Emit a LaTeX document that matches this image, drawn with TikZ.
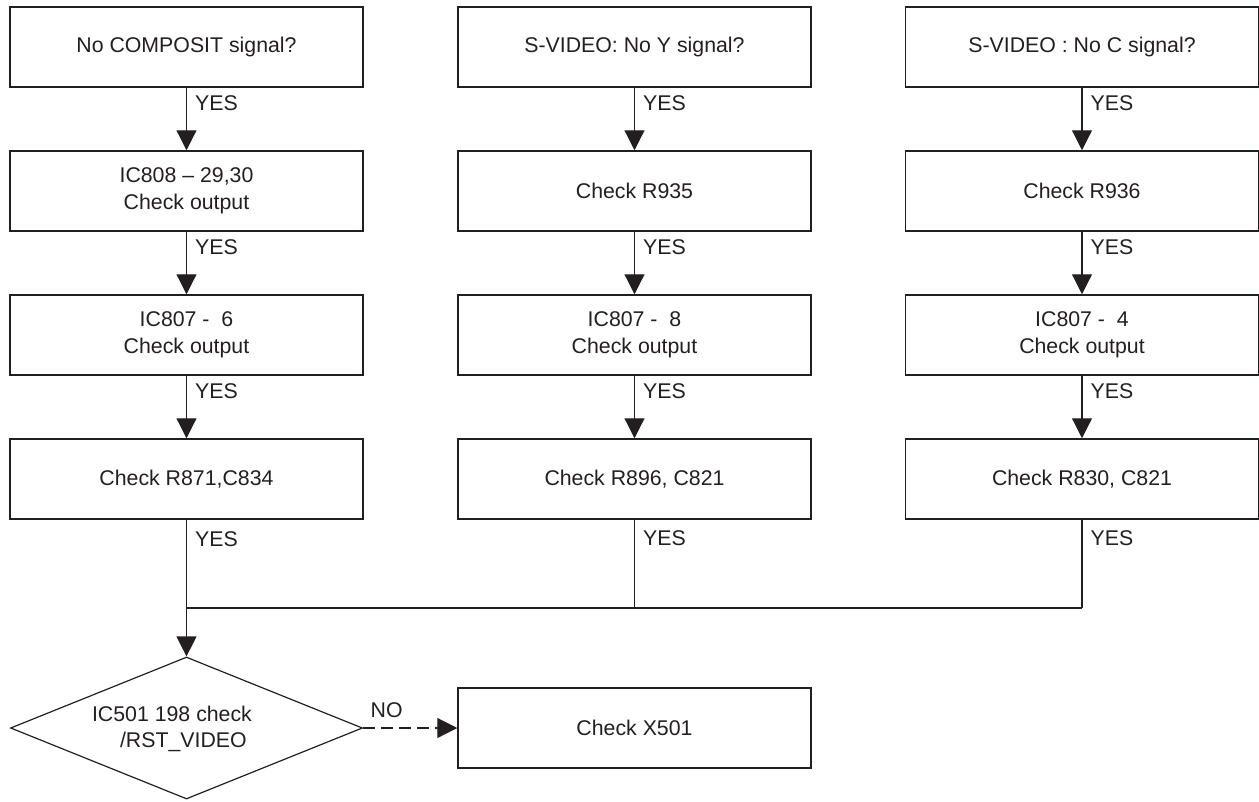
\documentclass[tikz,border=0pt]{standalone}
\usepackage{fontspec}
\setmainfont{Liberation Sans}
\usetikzlibrary{arrows.meta,shapes.geometric}
\definecolor{ink}{HTML}{231F20}
\begin{document}
\begin{tikzpicture}[x=1pt,y=-1pt, color=ink,
  txt/.style={font=\fontsize{21.3}{26.5}\selectfont},
  box/.style={draw, line width=1.5pt, minimum width=353pt, minimum height=80pt, inner sep=0pt, align=center, txt},
  flow/.style={line width=1.2pt, -{Triangle[length=20pt,width=20pt]}},
  plain/.style={line width=1.2pt},
  lab/.style={txt, anchor=west, inner sep=0pt, xshift=8pt}]
\useasboundingbox (0,0) rectangle (1259,801);
% column 1
\node[box] (a1) at (186.5,47) {No COMPOSIT signal?};
\node[box] (a2) at (186.5,191) {IC808 -- 29,30\\Check output};
\node[box] (a3) at (186.5,335) {IC807 -\ \ 6\\Check output};
\node[box] (a4) at (186.5,479) {Check R871,C834};
% column 2
\node[box] (b1) at (634.5,47) {S-VIDEO: No Y signal?};
\node[box] (b2) at (634.5,191) {Check R935};
\node[box] (b3) at (634.5,335) {IC807 -\ \ 8\\Check output};
\node[box] (b4) at (634.5,479) {Check R896, C821};
% column 3
\node[box] (c1) at (1082,47) {S-VIDEO : No C signal?};
\node[box] (c2) at (1082,191) {Check R936};
\node[box] (c3) at (1082,335) {IC807 -\ \ 4\\Check output};
\node[box] (c4) at (1082,479) {Check R830, C821};
% decision and result
\node[diamond, draw, line width=1.2pt, minimum width=352pt, minimum height=142pt, inner sep=0pt] (d) at (186.5,728) {};
\node[txt, align=left, inner sep=0pt] (dt) at (172,729) {IC501 198 check\\\hspace*{28pt}/RST\_VIDEO};
\node[box] (x) at (634.5,728) {Check X501};
% junction coordinates
\coordinate (j1) at (186.5,608);
\coordinate (j2) at (634.5,608);
\coordinate (j3) at (1082,608);
% vertical flows
\foreach \col in {a,b,c}{
  \draw[flow] (\col1.south) -- node[pos=0.25, lab]{YES} (\col2.north);
  \draw[flow] (\col2.south) -- node[pos=0.25, lab]{YES} (\col3.north);
  \draw[flow] (\col3.south) -- node[pos=0.25, lab]{YES} (\col4.north);
}
\draw[plain] (b4.south) -- node[pos=0.21, lab]{YES} (j2);
\draw[plain] (c4.south) -- node[pos=0.21, lab]{YES} (j3);
\draw[plain] (j1) -- (j3);
\draw[flow] (a4.south) -- node[pos=0.14, lab]{YES} (d.north);
\draw[flow, dash pattern=on 12pt off 6pt] (d.east) -- node[pos=0, txt, anchor=south west, inner sep=0pt, xshift=7pt, yshift=10pt]{NO} (x.west);
\end{tikzpicture}
\end{document}
